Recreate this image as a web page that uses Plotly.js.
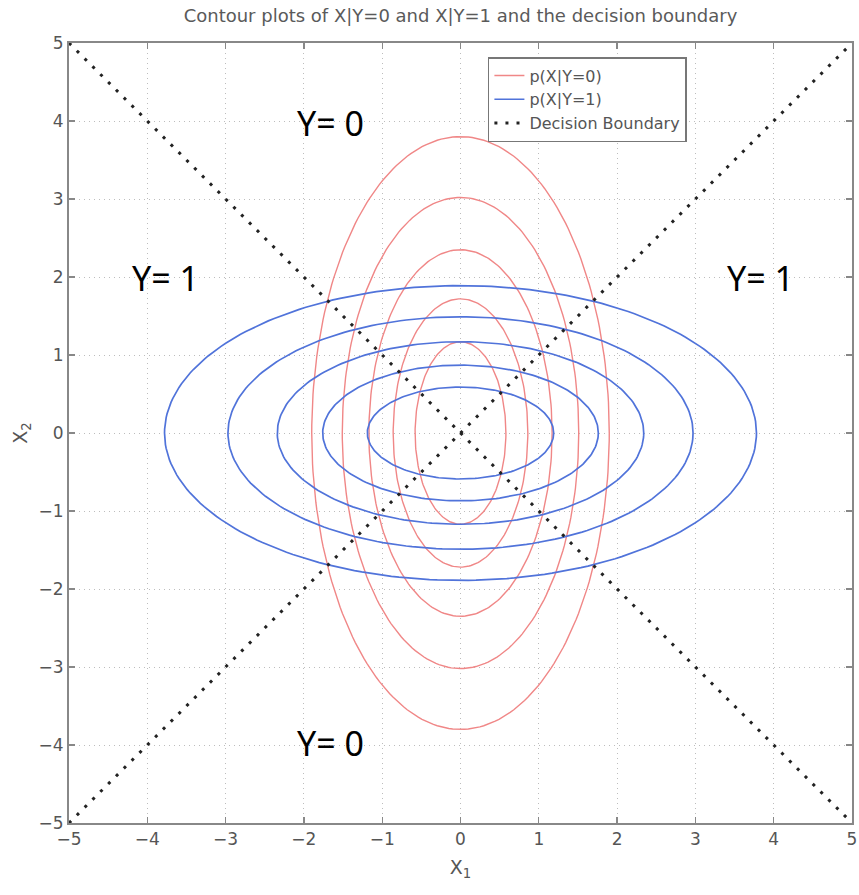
<!DOCTYPE html>
<html>
<head>
<meta charset="utf-8">
<script src="https://cdn.plot.ly/plotly-3.0.1.min.js"></script>
<style>html,body{margin:0;padding:0;background:#fff;}</style>
</head>
<body>
<div id="chart" style="width:859px;height:895px;"></div>
<script>
// ---- data ----
// contour ellipses of p(X|Y=0): semi-axes along x1 and x2 (outer -> inner)
const redSemiX = [1.90, 1.51, 1.17, 0.86, 0.58];
const redSemiY = [3.80, 3.02, 2.35, 1.72, 1.17];
// contour ellipses of p(X|Y=1)
const blueSemiX = [3.78, 2.97, 2.34, 1.76, 1.19];
const blueSemiY = [1.89, 1.49, 1.17, 0.87, 0.59];
// decision boundary: the two diagonals
const boundaryX = [-5, 5];
const boundaryRise = [-5, 5];
const boundaryFall = [5, -5];
// region labels
const regionText = ['Y= 0', 'Y= 0', 'Y= 1', 'Y= 1'];
const regionX = [-1.66, -1.66, -3.77, 3.83];
const regionY = [3.97, -3.97, 1.99, 1.99];
// ticks
const tickVals = [-5, -4, -3, -2, -1, 0, 1, 2, 3, 4, 5];

// ---- build ellipse traces ----
const N = 240;
function ellipse(a, b) {
  const xs = [], ys = [];
  for (let i = 0; i <= N; i++) {
    const t = 2 * Math.PI * i / N;
    xs.push(a * Math.cos(t));
    ys.push(b * Math.sin(t));
  }
  return {xs, ys};
}
function ellipseTrace(semiX, semiY, name, color, width) {
  const X = [], Y = [];
  semiX.forEach((a, k) => {
    const e = ellipse(a, semiY[k]);
    X.push(...e.xs, null);
    Y.push(...e.ys, null);
  });
  return {type: 'scatter', mode: 'lines', x: X, y: Y, name: name,
          line: {color: color, width: width}, hoverinfo: 'skip'};
}

const traces = [
  ellipseTrace(redSemiX, redSemiY, 'p(X|Y=0)', 'rgb(240,135,135)', 1.4),
  ellipseTrace(blueSemiX, blueSemiY, 'p(X|Y=1)', 'rgb(80,115,218)', 1.7),
  {type: 'scatter', mode: 'lines', name: 'Decision Boundary',
   x: boundaryX.concat([null], boundaryX),
   y: boundaryRise.concat([null], boundaryFall),
   line: {color: '#222', width: 3, dash: '3px,8.05px'}, hoverinfo: 'skip'}
];

const annotations = regionText.map((t, i) => ({
  x: regionX[i], y: regionY[i], xref: 'x', yref: 'y', text: t, showarrow: false,
  font: {family: 'Noto Sans, Open Sans, sans-serif', size: 34, color: '#000'}
}));

const axisCommon = {
  range: [-5, 5], tickvals: tickVals, showgrid: true, gridcolor: '#bdbdbd',
  griddash: '1px,4px', gridwidth: 1, zeroline: false, showline: true, linecolor: '#888',
  linewidth: 2, mirror: 'ticks', ticks: 'inside', ticklen: 6, tickwidth: 1.3,
  tickcolor: '#888', tickfont: {family: 'DejaVu Sans, sans-serif', size: 17, color: '#555'}
};

const layout = {
  width: 859, height: 895,
  margin: {l: 69, r: 7, t: 43, b: 72},
  paper_bgcolor: '#fff', plot_bgcolor: '#fff',
  title: {text: 'Contour plots of X|Y=0 and X|Y=1 and the decision boundary',
          font: {family: 'DejaVu Sans, sans-serif', size: 18, color: '#5a5a5a'},
          x: 0.5, xref: 'paper', y: 0.983, yref: 'container', yanchor: 'middle'},
  xaxis: Object.assign({}, axisCommon, {
    title: {text: 'X<sub>1</sub>', font: {family: 'DejaVu Sans, sans-serif', size: 19, color: '#555'}, standoff: 12}
  }),
  yaxis: Object.assign({}, axisCommon, {
    title: {text: 'X<sub>2</sub>', font: {family: 'DejaVu Sans, sans-serif', size: 19, color: '#555'}, standoff: 6}
  }),
  legend: {x: 0.535, y: 0.982, xanchor: 'left', yanchor: 'top', bgcolor: '#fff',
           bordercolor: '#777', borderwidth: 1.5, tracegroupgap: 0,
           font: {family: 'DejaVu Sans, sans-serif', size: 16, color: '#555'}},
  showlegend: true,
  annotations: annotations
};

Plotly.newPlot('chart', traces, layout, {displayModeBar: false, staticPlot: true});
</script>
</body>
</html>
